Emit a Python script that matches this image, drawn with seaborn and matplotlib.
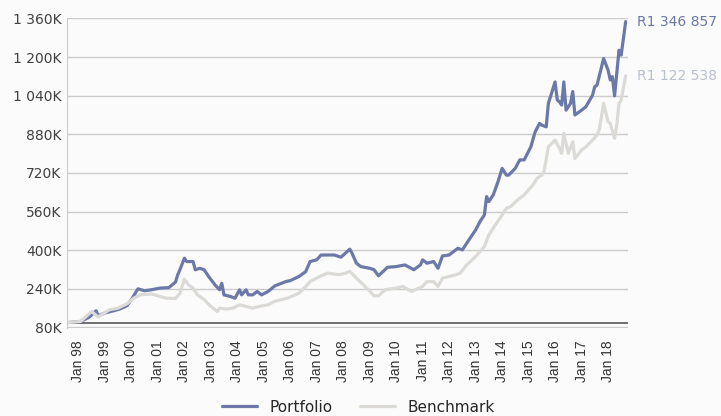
import pandas as pd
import matplotlib
matplotlib.use("Agg")
import matplotlib.pyplot as plt
import seaborn as sns

# values, in thousands of rand
portfolio_dates = [
    "1997-08", "1998-02", "1998-06", "1998-09", "1998-10", "1999-01", "1999-05", "1999-08", "1999-11",
    "2000-01", "2000-04", "2000-07", "2000-10", "2001-02", "2001-06", "2001-09", "2001-10", "2001-11",
    "2002-01", "2002-02", "2002-05", "2002-06", "2002-08", "2002-10", "2002-12", "2003-03", "2003-05",
    "2003-06", "2003-07", "2003-10", "2003-12", "2004-02", "2004-03", "2004-05", "2004-06", "2004-08",
    "2004-10", "2004-12", "2005-03", "2005-06", "2005-11", "2006-01", "2006-05", "2006-08", "2006-10",
    "2007-01", "2007-03", "2007-06", "2007-09", "2007-12", "2008-02", "2008-04", "2008-05", "2008-07",
    "2008-09", "2009-01", "2009-03", "2009-05", "2009-07", "2009-09", "2010-01", "2010-05", "2010-09",
    "2010-12", "2011-01", "2011-03", "2011-06", "2011-08", "2011-10", "2012-01", "2012-05", "2012-07",
    "2012-10", "2013-01", "2013-03", "2013-05", "2013-06", "2013-07", "2013-09", "2013-11", "2014-01",
    "2014-03", "2014-04", "2014-07", "2014-09", "2014-11", "2015-02", "2015-04", "2015-06", "2015-07",
    "2015-09", "2015-10", "2016-01", "2016-02", "2016-03", "2016-04", "2016-05", "2016-06", "2016-08",
    "2016-09", "2016-10", "2017-01", "2017-03", "2017-06", "2017-07", "2017-08", "2017-11", "2018-01",
    "2018-02", "2018-03", "2018-04", "2018-05", "2018-06", "2018-07", "2018-09",
]
portfolio_values = [
    100, 105, 123, 149, 128, 140, 149, 157, 170,
    195, 240, 232, 236, 243, 245, 268, 298, 319,
    367, 353, 353, 319, 325, 319, 291, 256, 236,
    263, 215, 208, 201, 236, 215, 236, 215, 215,
    229, 215, 229, 252, 270, 274, 291, 311, 353,
    360, 380, 380, 380, 371, 388, 404, 388, 346,
    332, 325, 319, 294, 311, 329, 332, 339, 319,
    339, 360, 346, 353, 325, 376, 380, 408, 401,
    443, 484, 518, 546, 622, 601, 629, 680, 739,
    711, 711, 739, 774, 774, 828, 890, 925, 918,
    911, 1008, 1097, 1022, 1015, 1001, 1097, 980, 1008,
    1057, 960, 980, 994, 1042, 1077, 1083, 1194, 1146,
    1105, 1119, 1039, 1132, 1228, 1208, 1346.857,
]

benchmark_dates = [
    "1997-08", "1998-02", "1998-07", "1998-10", "1999-03", "1999-07", "1999-11", "2000-02", "2000-05",
    "2000-10", "2001-02", "2001-05", "2001-09", "2001-11", "2002-01", "2002-03", "2002-05", "2002-07",
    "2002-10", "2003-01", "2003-04", "2003-05", "2003-08", "2003-11", "2004-02", "2004-05", "2004-08",
    "2004-11", "2005-03", "2005-06", "2005-12", "2006-05", "2006-08", "2006-10", "2007-03", "2007-06",
    "2007-11", "2008-02", "2008-04", "2008-07", "2008-11", "2009-03", "2009-05", "2009-08", "2010-01",
    "2010-04", "2010-08", "2011-01", "2011-03", "2011-06", "2011-08", "2011-10", "2012-04", "2012-06",
    "2012-09", "2013-01", "2013-05", "2013-07", "2013-10", "2014-01", "2014-03", "2014-05", "2014-08",
    "2014-11", "2015-03", "2015-05", "2015-07", "2015-08", "2015-10", "2016-01", "2016-03", "2016-04",
    "2016-05", "2016-07", "2016-09", "2016-10", "2017-01", "2017-03", "2017-06", "2017-08", "2017-09",
    "2017-11", "2018-01", "2018-02", "2018-04", "2018-05", "2018-06", "2018-07", "2018-09",
]
benchmark_values = [
    100, 105, 146, 123, 153, 160, 178, 201, 215,
    219, 208, 201, 200, 222, 280, 256, 243, 215,
    195, 167, 146, 160, 156, 160, 174, 167, 160,
    167, 174, 188, 202, 222, 249, 270, 294, 305,
    298, 305, 312, 284, 249, 211, 211, 236, 243,
    250, 229, 250, 270, 270, 250, 284, 298, 305,
    339, 374, 415, 463, 505, 546, 574, 581, 608,
    629, 670, 698, 711, 725, 828, 856, 822, 801,
    884, 801, 849, 780, 815, 828, 856, 877, 898,
    1008, 932, 925, 863, 918, 1008, 1022, 1122.538,
]

series_names = ["Portfolio", "Benchmark"]
series_colors = {"Portfolio": "#6b79a8", "Benchmark": "#dcdad7"}
label_colors = {"Portfolio": "#6b79a6", "Benchmark": "#b9c0d0"}

y_ticks = [80, 240, 400, 560, 720, 880, 1040, 1200, 1360]
y_tick_labels = ["80K", "240K", "400K", "560K", "720K", "880K", "1 040K", "1 200K", "1 360K"]
x_tick_years = list(range(1998, 2019))

df = pd.concat([
    pd.DataFrame({"Date": pd.to_datetime(portfolio_dates), "Value": portfolio_values, "Series": "Portfolio"}),
    pd.DataFrame({"Date": pd.to_datetime(benchmark_dates), "Value": benchmark_values, "Series": "Benchmark"}),
])

sns.set_style("white")
plt.rcParams["font.family"] = ["DejaVu Sans"]

fig = plt.figure(figsize=(7.21, 4.16), dpi=100, facecolor="#fbfbfb")
ax = fig.add_axes([0.093, 0.2123, 0.778, 0.744])
ax.set_facecolor("#fbfbfb")

sns.lineplot(data=df, x="Date", y="Value", hue="Series", hue_order=series_names,
             palette=series_colors, linewidth=2.3, ax=ax, legend=False)

# dark baseline at the starting value
ax.axhline(100, color="#555555", linewidth=1.2, zorder=1)

ax.set_ylim(79, 1361)
ax.set_yticks(y_ticks)
ax.set_yticklabels(y_tick_labels, fontsize=10, color="#404040")
ax.grid(axis="y", color="#cccccc", linewidth=1)
ax.set_axisbelow(True)

ax.set_xlim(pd.Timestamp("1997-07-28"), pd.Timestamp("2018-10-03"))
ax.set_xticks([pd.Timestamp(f"{y}-01-01") for y in x_tick_years])
ax.set_xticklabels([f"Jan {str(y)[2:]}" for y in x_tick_years], rotation=90,
                   fontsize=10, color="#333333", family="Liberation Sans")
ax.tick_params(axis="x", length=0, pad=9)
ax.tick_params(axis="y", length=0, pad=4)
ax.set_xlabel("")
ax.set_ylabel("")

for side in ["top", "right", "bottom"]:
    ax.spines[side].set_visible(False)
ax.spines["left"].set_color("#cccccc")

# end-of-line value labels
ends = {"Portfolio": portfolio_values[-1], "Benchmark": benchmark_values[-1]}
end_dates = {"Portfolio": portfolio_dates[-1], "Benchmark": benchmark_dates[-1]}
for name in series_names:
    txt = f"R{ends[name] * 1000:,.0f}".replace(",", " ")
    ax.annotate(txt, xy=(pd.Timestamp(end_dates[name]), ends[name]), xytext=(8, 0),
                textcoords="offset points", va="center", ha="left",
                fontsize=10, color=label_colors[name], annotation_clip=False)

handles = [plt.Line2D([], [], color=series_colors[n], linewidth=2.3) for n in series_names]
fig.legend(handles, series_names, loc="lower center", bbox_to_anchor=(0.497, -0.03), ncol=2,
           frameon=False, fontsize=11, handlelength=2.3, columnspacing=1.8, handletextpad=0.8)

fig.savefig("out.png", dpi=100, facecolor=fig.get_facecolor())
